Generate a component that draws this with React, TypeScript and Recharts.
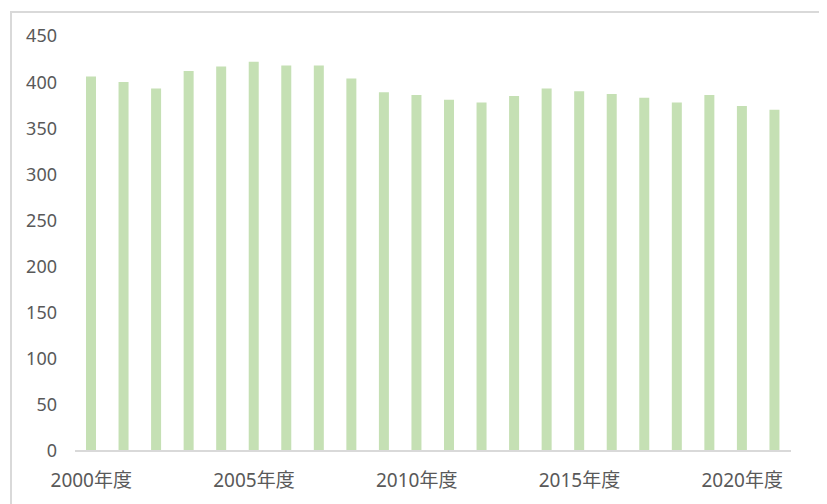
import React from 'react';
import { BarChart, Bar, XAxis, YAxis } from 'recharts';

const categories = [
  '2000年度', '2001年度', '2002年度', '2003年度', '2004年度', '2005年度',
  '2006年度', '2007年度', '2008年度', '2009年度', '2010年度', '2011年度',
  '2012年度', '2013年度', '2014年度', '2015年度', '2016年度', '2017年度',
  '2018年度', '2019年度', '2020年度', '2021年度',
];
const values = [
  406, 400, 393, 412, 417, 422, 418, 418, 404, 389, 386,
  381, 378, 385, 393, 390, 387, 383, 378, 386, 374, 370,
];
const yTicks = [0, 50, 100, 150, 200, 250, 300, 350, 400, 450];

const data = categories.map((name, i) => ({ name, value: values[i] }));

const font = '"Noto Sans", "Noto Sans CJK JP", sans-serif';
const textColor = '#595959';

export default function App() {
  return (
    <div style={{ position: 'relative', width: 819, height: 496, overflow: 'hidden' }}>
      <div
        style={{
          position: 'absolute',
          left: 2,
          top: 3,
          width: 860,
          height: 560,
          border: '2px solid #D9D9D9',
          boxSizing: 'border-box',
        }}
      />
      <div style={{ position: 'absolute', left: 0, top: 0 }}>
        <BarChart
          width={819}
          height={496}
          data={data}
          margin={{ top: 28, right: 36, left: 0, bottom: 0 }}
          barSize={10}
        >
          <XAxis
            dataKey="name"
            interval={4}
            height={53}
            tickLine={false}
            tickSize={6}
            tickMargin={17}
            axisLine={{ stroke: '#D9D9D9', strokeWidth: 2 }}
            tick={{ fill: textColor, fontSize: 19, fontFamily: font }}
          />
          <YAxis
            width={67}
            domain={[0, 450]}
            ticks={yTicks}
            axisLine={false}
            tickLine={false}
            tickSize={6}
            tickMargin={12}
            tick={{ fill: textColor, fontSize: 18, fontFamily: font }}
          />
          <Bar dataKey="value" fill="#C5E0B4" isAnimationActive={false} />
        </BarChart>
      </div>
    </div>
  );
}
